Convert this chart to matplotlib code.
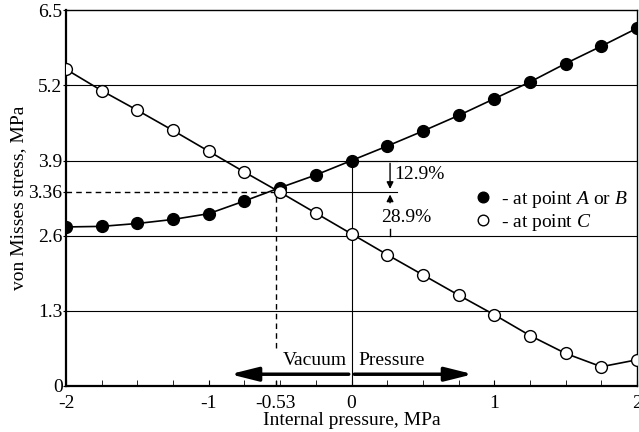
import numpy as np
import matplotlib
matplotlib.use("Agg")
import matplotlib.pyplot as plt

plt.rcParams['font.family'] = ['Liberation Serif', 'DejaVu Serif']
plt.rcParams['mathtext.fontset'] = 'custom'
plt.rcParams['mathtext.rm'] = 'Liberation Serif'
plt.rcParams['mathtext.it'] = 'Liberation Serif:italic'

# data
pressure = [-2, -1.75, -1.5, -1.25, -1, -0.75, -0.5, -0.25, 0,
            0.25, 0.5, 0.75, 1, 1.25, 1.5, 1.75, 2]
stress_ab = [2.75, 2.76, 2.81, 2.88, 2.98, 3.20, 3.43, 3.65, 3.90,
             4.15, 4.41, 4.68, 4.97, 5.26, 5.58, 5.88, 6.19]
stress_c = [5.48, 5.11, 4.77, 4.42, 4.06, 3.70, 3.35, 2.99, 2.63,
            2.27, 1.92, 1.57, 1.23, 0.87, 0.56, 0.33, 0.45]
xticks = [-2, -1, -0.53, 0, 1, 2]
xlabels = ['-2', '-1', '-0.53', '0', '1', '2']
yticks = [0, 1.3, 2.6, 3.36, 3.9, 5.2, 6.5]
ylabels = ['0', '1.3', '2.6', '3.36', '3.9', '5.2', '6.5']
grid_y = [1.3, 2.6, 3.9, 5.2]
cross_x = -0.53
cross_y = 3.36

FS = 14

fig = plt.figure(figsize=(6.39, 4.32), dpi=100)
ax = fig.add_axes([0.1033, 0.107, 0.8936, 0.869])

for g in grid_y:
    ax.axhline(g, color='black', lw=0.8, zorder=1)

# guide lines
ax.plot([-2, cross_x], [cross_y, cross_y], 'k--', lw=1.0, dashes=(4, 3))
ax.plot([cross_x, 0.32], [cross_y, cross_y], 'k-', lw=0.8)
ax.plot([cross_x, cross_x], [0.65, cross_y], 'k--', lw=1.0, dashes=(4, 3))
ax.plot([cross_x, cross_x], [0, 0.12], 'k--', lw=1.0, dashes=(4, 3))
ax.plot([0, 0], [0, 3.9], 'k-', lw=0.8)
ax.plot([0, 0.32], [3.9, 3.9], 'k-', lw=0.8)

# curves
ax.plot(pressure, stress_ab, '-o', color='black', lw=1.2, ms=8.5,
        mfc='black', mec='black', label='- at point $\\it{A}$ or $\\it{B}$', zorder=3)
ax.plot(pressure, stress_c, '-o', color='black', lw=1.2, ms=8.5,
        mfc='white', mec='black', mew=1.0, label='- at point $\\it{C}$', zorder=3)

# percentage arrows
ax.annotate('', xy=(0.27, cross_y), xytext=(0.27, 3.9),
            arrowprops=dict(arrowstyle='-|>', color='black', lw=1.0, mutation_scale=10))
ax.annotate('', xy=(0.27, cross_y), xytext=(0.27, 3.12),
            arrowprops=dict(arrowstyle='-|>', color='black', lw=1.0, mutation_scale=10))
ax.plot([0.27, 0.27], [2.6, 2.72], 'k-', lw=1.0)
ax.text(0.30, 3.66, '12.9%', fontsize=FS, va='center', ha='left')
ax.text(0.21, 2.92, '28.9%', fontsize=FS, va='center', ha='left')

# vacuum / pressure arrow
ax.annotate('', xy=(-0.87, 0.2), xytext=(0.0, 0.2),
            arrowprops=dict(arrowstyle='-|>,head_length=1.2,head_width=0.3',
                            color='black', lw=2.5, mutation_scale=14))
ax.annotate('', xy=(0.87, 0.2), xytext=(0.0, 0.2),
            arrowprops=dict(arrowstyle='-|>,head_length=1.2,head_width=0.3',
                            color='black', lw=2.5, mutation_scale=14))
ax.text(-0.03, 0.44, 'Vacuum', fontsize=FS, ha='right', va='center')
ax.text(0.05, 0.44, 'Pressure', fontsize=FS, ha='left', va='center')

ax.legend(loc='upper left', bbox_to_anchor=(0.69, 0.57), frameon=False,
          fontsize=FS, handlelength=0.6, handletextpad=0.6, labelspacing=0.1,
          markerscale=0.9)
leg = ax.get_legend()
for h in leg.legend_handles:
    h.set_linestyle('')

ax.set_xlim(-2, 2)
ax.set_ylim(0, 6.5)
ax.set_xticks(xticks)
ax.set_xticklabels(xlabels)
ax.set_xticks(np.arange(-2, 2.01, 0.25), minor=True)
ax.set_yticks(yticks)
ax.set_yticklabels(ylabels)
ax.tick_params(axis='x', which='both', direction='in', length=4, labelsize=FS, pad=7)
ax.tick_params(axis='y', direction='inout', length=5, labelsize=FS, pad=0)
ax.spines['left'].set_linewidth(1.6)
ax.spines['bottom'].set_linewidth(1.6)
ax.spines['top'].set_linewidth(1.0)
ax.spines['right'].set_linewidth(1.0)

ax.set_xlabel('Internal pressure, MPa', fontsize=FS, labelpad=0)
ax.set_ylabel('von Misses stress, MPa', fontsize=FS, labelpad=1)

fig.savefig('out.png', dpi=100)
